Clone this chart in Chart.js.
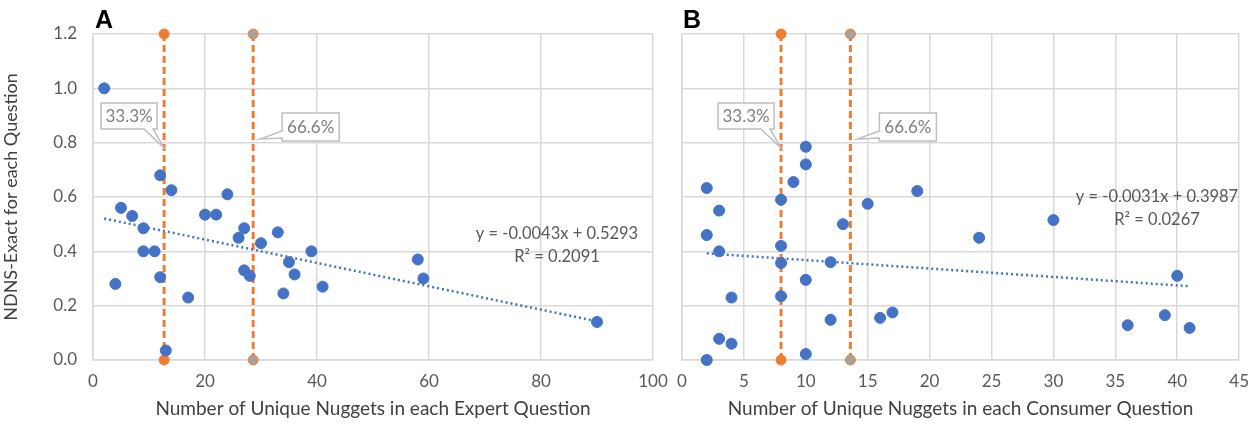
<!DOCTYPE html>
<html>
<head>
<meta charset="utf-8">
<script src="https://cdn.jsdelivr.net/npm/chart.js@4.4.1/dist/chart.umd.min.js"></script>
<style>
  body { margin: 0; background: #fff; }
  #wrap { position: relative; width: 1260px; height: 424px; }
  #boxA { position: absolute; left: 0; top: 0; width: 680px; height: 424px; }
  #boxB { position: absolute; left: 664px; top: 0; width: 596px; height: 424px; }
</style>
</head>
<body>
<div id="wrap">
  <div id="boxA"><canvas id="chartA" width="680" height="424"></canvas></div>
  <div id="boxB"><canvas id="chartB" width="596" height="424"></canvas></div>
</div>
<script>
// panel A - expert questions
var expertX = [2, 4, 5, 7, 9, 9, 11, 12, 12, 13, 14, 17, 20, 22, 24, 26, 27, 27, 28, 30, 33, 34, 35, 36, 39, 41, 58, 59, 90];
var expertY = [1.0, 0.28, 0.56, 0.53, 0.485, 0.40, 0.40, 0.68, 0.305, 0.035, 0.625, 0.23, 0.535, 0.535, 0.61, 0.45, 0.485, 0.33, 0.31, 0.43, 0.47, 0.245, 0.36, 0.315, 0.40, 0.27, 0.37, 0.30, 0.14];
var expertCuts = [12.7, 28.6];
var expertTrend = [-0.0043, 0.5293];
var expertTrendRange = [2, 90];

// panel B - consumer questions
var consumerX = [2, 2, 2, 3, 3, 3, 4, 4, 8, 8, 8, 8, 9, 10, 10, 10, 10, 13, 12, 12, 15, 16, 17, 19, 24, 30, 36, 39, 40, 41];
var consumerY = [0.633, 0.46, 0.0, 0.55, 0.40, 0.078, 0.23, 0.06, 0.59, 0.42, 0.357, 0.235, 0.655, 0.785, 0.72, 0.295, 0.022, 0.50, 0.36, 0.148, 0.575, 0.155, 0.175, 0.622, 0.45, 0.515, 0.128, 0.165, 0.31, 0.118];
var consumerCuts = [8, 13.6];
var consumerTrend = [-0.0031, 0.3987];
var consumerTrendRange = [2, 41];

var cutLabels = ['33.3%', '66.6%'];
var yTicks = [0, 0.2, 0.4, 0.6, 0.8, 1.0, 1.2];

var FONT = 'Lato, "Open Sans", sans-serif';
var BLUE = '#4472C4';
var ORANGE = '#ED7D31';
var GRID = '#d9d9d9';

function pts(xs, ys) {
    return xs.map(function (x, i) { return { x: x, y: ys[i] }; });
}

function trendPts(t, r) {
    return [{ x: r[0], y: t[0] * r[0] + t[1] }, { x: r[1], y: t[0] * r[1] + t[1] }];
}

function cutSet(x, fill) {
    return {
        type: 'line',
        data: [{ x: x, y: 0 }, { x: x, y: 1.2 }],
        borderColor: ORANGE,
        borderWidth: 3,
        borderDash: [7, 4],
        pointRadius: 5,
        pointBackgroundColor: fill,
        pointBorderColor: ORANGE,
        pointBorderWidth: 1,
        clip: false
    };
}

// callout boxes + equation + panel letter
function overlay(letter, letterX, eq, cuts) {
    return {
        id: 'overlay' + letter,
        afterDatasetsDraw: function (chart) {
            var ctx = chart.ctx;
            var xs = chart.scales.x;
            ctx.save();
            // callouts
            for (var i = 0; i < 2; i++) {
                var lx = xs.getPixelForValue(cuts[i]);
                var L, R, T, B;
                ctx.beginPath();
                if (i === 0) {
                    R = lx - 7; L = R - 56; T = 103; B = 129;
                    ctx.moveTo(L, T); ctx.lineTo(R, T); ctx.lineTo(R, B);
                    ctx.lineTo(R - 4, B); ctx.lineTo(lx, 148); ctx.lineTo(R - 13, B);
                    ctx.lineTo(L, B); ctx.closePath();
                } else {
                    L = lx + 29; R = L + 57; T = 113; B = 141;
                    ctx.moveTo(L, T); ctx.lineTo(R, T); ctx.lineTo(R, B); ctx.lineTo(L, B);
                    ctx.lineTo(L, B - 3); ctx.lineTo(lx + 7, B - 2); ctx.lineTo(L, B - 10);
                    ctx.closePath();
                }
                ctx.fillStyle = '#fff';
                ctx.fill();
                ctx.strokeStyle = '#bfbfbf';
                ctx.lineWidth = 1.5;
                ctx.stroke();
                ctx.fillStyle = '#7f7f7f';
                ctx.font = '17px ' + FONT;
                ctx.textAlign = 'center';
                ctx.textBaseline = 'middle';
                ctx.fillText(cutLabels[i], (L + R) / 2, (T + B) / 2 + 1);
            }
            // trend equation
            ctx.fillStyle = '#595959';
            ctx.font = '16.5px ' + FONT;
            ctx.textAlign = 'center';
            ctx.textBaseline = 'middle';
            ctx.fillText(eq[0], eq[2], eq[3]);
            ctx.fillText(eq[1], eq[2], eq[3] + 23);
            // panel letter
            ctx.fillStyle = '#000';
            ctx.font = 'bold 25px "Liberation Sans", Arial, sans-serif';
            ctx.textAlign = 'left';
            ctx.textBaseline = 'alphabetic';
            ctx.fillText(letter, letterX, 28);
            ctx.restore();
        }
    };
}

function makeChart(id, xs, ys, cuts, trend, range, xMax, xStep, xTitle, showY, yWidth, padRight, letter, letterX, eq) {
    return new Chart(document.getElementById(id).getContext('2d'), {
        type: 'scatter',
        data: {
            datasets: [
                {
                    data: pts(xs, ys),
                    backgroundColor: BLUE,
                    borderColor: BLUE,
                    pointRadius: 5.5,
                    clip: false
                },
                {
                    type: 'line',
                    data: trendPts(trend, range),
                    borderColor: BLUE,
                    borderWidth: 2.5,
                    borderDash: [2, 3],
                    pointRadius: 0,
                    clip: false
                },
                cutSet(cuts[0], ORANGE),
                cutSet(cuts[1], '#a8a29c')
            ]
        },
        options: {
            responsive: false,
            animation: false,
            events: [],
            layout: { padding: { top: 34, right: padRight, bottom: 0, left: 0 } },
            plugins: { legend: { display: false }, tooltip: { enabled: false } },
            scales: {
                x: {
                    type: 'linear',
                    min: 0,
                    max: xMax,
                    ticks: { stepSize: xStep, color: '#595959', font: { family: FONT, size: 17 }, padding: 11, maxRotation: 0 },
                    grid: { color: GRID, lineWidth: 1.5, drawTicks: false },
                    border: { color: GRID, width: 1.5 },
                    title: { display: true, text: xTitle, color: '#404040', font: { family: FONT, size: 19 }, padding: { top: 2, bottom: 4 } },
                    afterFit: function (s) { s.height = 64; }
                },
                y: {
                    type: 'linear',
                    min: 0,
                    max: 1.2,
                    afterBuildTicks: function (s) { s.ticks = yTicks.map(function (v) { return { value: v }; }); },
                    ticks: {
                        display: showY,
                        color: '#595959',
                        font: { family: FONT, size: 17 },
                        padding: 16,
                        callback: function (v) { return v.toFixed(1); }
                    },
                    grid: { color: GRID, lineWidth: 1.5, drawTicks: false },
                    border: { color: GRID, width: 1.5 },
                    title: { display: showY, text: 'NDNS-Exact for each Question', color: '#404040', font: { family: FONT, size: 18 }, padding: { top: 0, bottom: 4 } },
                    afterFit: function (s) { s.width = yWidth; }
                }
            }
        },
        plugins: [overlay(letter, letterX, eq, cuts)]
    });
}

makeChart('chartA', expertX, expertY, expertCuts, expertTrend, expertTrendRange, 100, 20,
    'Number of Unique Nuggets in each Expert Question', true, 93, 27, 'A', 95,
    ['y = -0.0043x + 0.5293', 'R\u00B2 = 0.2091', 557, 234]);

makeChart('chartB', consumerX, consumerY, consumerCuts, consumerTrend, consumerTrendRange, 45, 5,
    'Number of Unique Nuggets in each Consumer Question', false, 18, 14, 'B', 19,
    ['y = -0.0031x + 0.3987', 'R\u00B2 = 0.0267', 493, 197]);
</script>
</body>
</html>
